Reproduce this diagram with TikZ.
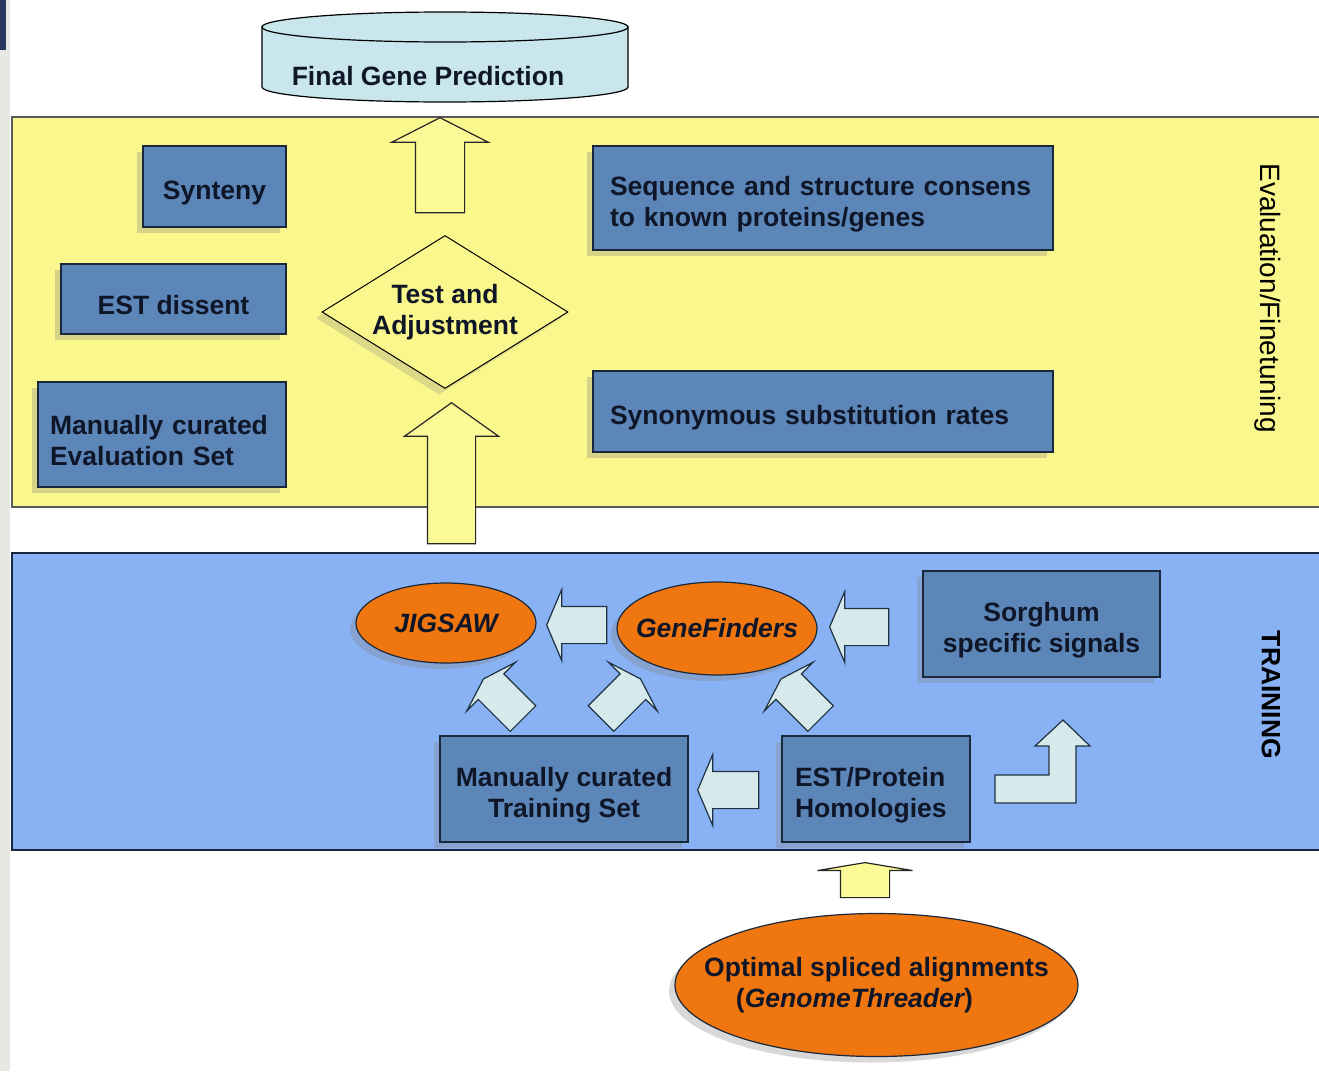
\documentclass[tikz,border=0pt]{standalone}
\usepackage{fontspec}
\setmainfont{Liberation Sans}
\usetikzlibrary{shapes.geometric,shapes.arrows,shadows}
\definecolor{evalyellow}{RGB}{250,247,140}
\definecolor{trainblue}{RGB}{137,178,245}
\definecolor{boxblue}{RGB}{92,133,184}
\definecolor{boxline}{RGB}{25,40,60}
\definecolor{orangefill}{RGB}{240,118,15}
\definecolor{paleface}{RGB}{214,234,236}
\definecolor{arrowedge}{RGB}{30,50,65}
\definecolor{arrowyellow}{RGB}{252,250,150}
\definecolor{cylcyan}{RGB}{200,230,235}
\definecolor{textnavy}{RGB}{15,22,40}
\definecolor{paper}{RGB}{232,232,226}
\definecolor{cornerblue}{RGB}{40,55,95}
\tikzset{
  box/.style      ={draw=boxline, line width=1.5pt, fill=boxblue, align=center, inner sep=0pt,
                    execute at begin node={\rule{0pt}{32pt}},
                    drop shadow={shadow xshift=-6pt, shadow yshift=-6pt, opacity=0.3}},
  lbox/.style     ={box, align=left},
  cbox/.style     ={box, align=flush center},
  oval/.style     ={ellipse, draw=boxline, line width=1.2pt, fill=orangefill, inner sep=-60pt, align=center,
                    drop shadow={shadow xshift=-6pt, shadow yshift=-6pt, opacity=0.3}},
  yarrow/.style   ={single arrow, draw=black!85, line width=1.2pt, fill=arrowyellow, anchor=tip, inner xsep=0pt},
  parrow/.style   ={single arrow, draw=arrowedge, line width=1.2pt, fill=paleface, anchor=tip, inner xsep=0pt},
  arrowdims/.style n args={4}{inner ysep=#1, single arrow head extend=#2, single arrow tip angle=#3, minimum height=#4},
  sidelabel/.style={rotate=-90, text=black},
}
\begin{document}
\begin{tikzpicture}[x=1pt, y=1pt, font=\fontsize{26.5}{31}\selectfont\bfseries, text=textnavy]
  \useasboundingbox (0,0) rectangle (1319,-1071);
  \fill[white] (0,0) rectangle (1319,-1071);
  \fill[paper] (0,0) rectangle (10,-1071);
  \fill[cornerblue] (0,0) rectangle (6,-50);

  % the two bands
  \draw[line width=1.5pt, draw=black!65, fill=evalyellow] (1330,-117) -- (12,-117) -- (12,-507) -- (1330,-507);
  \draw[line width=1.5pt, draw=boxline, fill=trainblue] (1330,-553) -- (12,-553) -- (12,-850) -- (1330,-850);
  \node[sidelabel, font=\fontsize{28}{32}\selectfont\mdseries] (evallab) at (1268,-298) {Evaluation/Finetuning};
  \node[sidelabel] (trainlab) at (1271,-695) {TRAINING};

  % final prediction
  \draw[line width=1.2pt, fill=cylcyan] (262,-27) -- (262,-87) arc[start angle=180, end angle=360, x radius=183pt, y radius=15pt] -- (628,-27) -- cycle;
  \draw[line width=1.2pt, fill=cylcyan] (445,-27) ellipse [x radius=183pt, y radius=15pt];
  \node (final) at (428,-76) {Final Gene Prediction};

  % evaluation
  \node[box, minimum width=143pt, minimum height=81pt] (syn) at (214.5,-186.5) {Synteny};
  \node[box, minimum width=225pt, minimum height=70pt] (estd) at (173.5,-299) {EST dissent};
  \node[lbox, text width=224pt, inner xsep=12pt, minimum height=105pt] (evalset) at (162,-434.5) {Manually curated\\Evaluation Set};
  \node[lbox, text width=426pt, inner xsep=17pt, minimum height=104pt] (seqcons) at (823,-198) {Sequence and structure consens\\to known proteins/genes};
  \node[lbox, text width=426pt, inner xsep=17pt, minimum height=81pt] (synsub) at (823,-411.5) {Synonymous substitution rates};
  \node[diamond, draw=black, line width=1pt, fill=evalyellow, minimum width=246pt, minimum height=153pt, inner sep=-40pt, align=center,
        drop shadow={shadow xshift=-6pt, shadow yshift=-6pt, opacity=0.25}] (test) at (445,-312) {Test and\\Adjustment};

  % training
  \node[cbox, text width=211pt, inner xsep=13pt, minimum height=106pt] (sorghum) at (1041.5,-624) {Sorghum\\specific signals};
  \node[cbox, text width=222pt, inner xsep=13pt, minimum height=106pt] (trainset) at (564,-789) {Manually curated\\Training Set};
  \node[lbox, text width=162pt, inner xsep=13pt, minimum height=106pt] (esthom) at (876,-789) {EST/Protein\\Homologies};
  \node[oval, minimum width=180pt, minimum height=80pt] (jigsaw) at (446,-623) {\itshape JIGSAW};
  \node[oval, minimum width=200pt, minimum height=93pt] (genef) at (717,-628.5) {\itshape GeneFinders};
  \node[oval, minimum width=403pt, minimum height=143pt] (gth) at (876.5,-985) {Optimal spliced alignments\\({\itshape GenomeThreader})\hspace*{44pt}};

  % block arrows
  \node[yarrow, rotate=90, arrowdims={24pt}{23.5pt}{126}{95pt}] (upfinal) at (440,-117) {};
  \node[yarrow, rotate=90, arrowdims={23.5pt}{23pt}{109}{141pt}] (uptest) at (451.5,-402) {};
  \node[yarrow, rotate=90, arrowdims={24pt}{23pt}{161}{35pt}] (upest) at (865,-862) {};
  \node[parrow, rotate=180, arrowdims={18pt}{17pt}{134}{60pt}] (tojig) at (546,-625) {};
  \node[parrow, rotate=180, arrowdims={18pt}{17pt}{134}{59pt}] (togenef) at (829,-627) {};
  \node[parrow, rotate=180, arrowdims={18pt}{17pt}{134}{61pt}] (totrain) at (697,-790) {};
  \node[parrow, rotate=135, arrowdims={17.5pt}{16.5pt}{145}{56pt}] (trainjig) at (483,-678.5) {};
  \node[parrow, rotate=45, arrowdims={17.5pt}{16.5pt}{145}{56pt}] (traingenef) at (641,-678.5) {};
  \node[parrow, rotate=135, arrowdims={17.5pt}{16.5pt}{145}{56pt}] (estgenef) at (780.5,-678.5) {};
  \draw[line width=1.2pt, draw=arrowedge, fill=paleface] (995,-775) -- (1049,-775) -- (1049,-746) -- (1035,-746)
    -- (1063,-720) -- (1090,-746) -- (1076,-746) -- (1076,-803) -- (995,-803) -- cycle;
\end{tikzpicture}
\end{document}
